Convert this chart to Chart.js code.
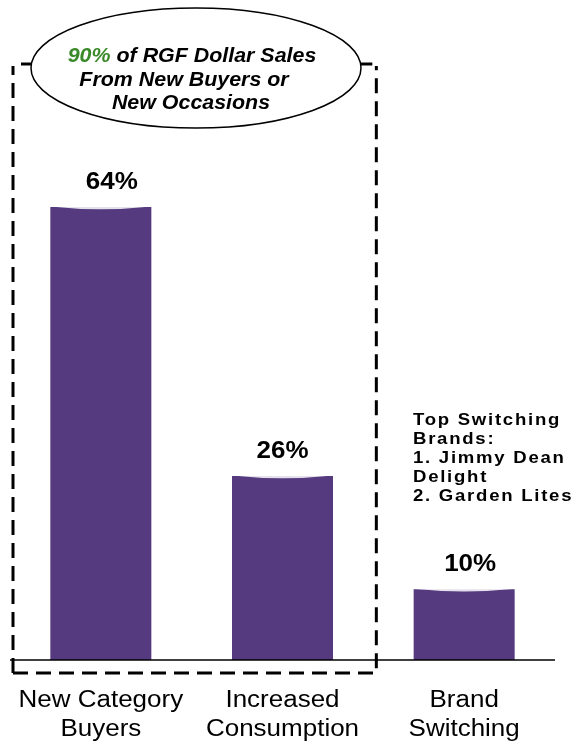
<!DOCTYPE html>
<html>
<head>
<meta charset="utf-8">
<script src="https://cdn.jsdelivr.net/npm/chart.js@4"></script>
<style>
  body { margin: 0; background: #fff; }
  #wrap { width: 575px; height: 745px; position: relative; }
</style>
</head>
<body>
<div id="wrap"><canvas id="barChart"></canvas></div>
<script>
//categories, each one split into two label lines
const categories = [
  ['New Category', 'Buyers'],
  ['Increased', 'Consumption'],
  ['Brand', 'Switching']
]

//share of dollar sales (%)
const shares = [64, 26, 10]

//callout texts
const calloutLines = ['of RGF Dollar Sales', 'From New Buyers or', 'New Occasions']
const calloutHighlight = '90%'
const noteLines = ['Top Switching', 'Brands:', '1. Jimmy Dean', 'Delight', '2. Garden Lites']

const barColor = '#553a7f'
const font = '"Liberation Sans", Arial, sans-serif'
//value labels are not quite centred over their bars in the original
const labelShift = [11, 0, 6]

//text in the original is a little wider than the font, so stretch it sideways
function wideText(ctx, text, x, y, sx) {
  ctx.save()
  ctx.translate(x, y)
  ctx.scale(sx, 1)
  ctx.fillText(text, 0, 0)
  ctx.restore()
}

/**Plugin drawing the labels, baseline, dashed box and the callout */
const decorations = {
  id: 'decorations',
  afterDatasetsDraw(chart) {
    const ctx = chart.ctx
    const x = chart.scales.x
    const y = chart.scales.y
    const base = y.getPixelForValue(0)

    ctx.save()

    //soft light curve on top of each bar
    chart.getDatasetMeta(0).data.forEach(bar => {
      const l = bar.x - bar.width / 2
      const r = bar.x + bar.width / 2
      ctx.beginPath()
      ctx.moveTo(l, bar.y - 0.5)
      ctx.lineTo(r, bar.y - 0.5)
      ctx.quadraticCurveTo(bar.x, bar.y + 5, l, bar.y - 0.5)
      ctx.fillStyle = 'rgba(255,255,255,0.85)'
      ctx.fill()
    })

    //baseline
    ctx.strokeStyle = '#000'
    ctx.lineWidth = 1.5
    ctx.beginPath()
    ctx.moveTo(chart.chartArea.left, base)
    ctx.lineTo(chart.chartArea.right, base)
    ctx.stroke()

    //value labels above bars
    ctx.fillStyle = '#000'
    ctx.textAlign = 'center'
    ctx.textBaseline = 'bottom'
    ctx.font = 'bold 23px ' + font
    shares.forEach((v, i) => {
      wideText(ctx, v + '%', x.getPixelForValue(i) + labelShift[i], y.getPixelForValue(v) - 13, 1.13)
    })

    //category labels under the axis
    ctx.textBaseline = 'middle'
    ctx.font = '23px ' + font
    categories.forEach((lines, i) => {
      lines.forEach((line, j) => {
        wideText(ctx, line, x.getPixelForValue(i), base + 41 + j * 29, 1.13)
      })
    })

    //dashed box round the first two bars
    const boxLeft = chart.chartArea.left + 3
    const boxRight = x.getPixelForValue(1.5) + 3
    const boxTop = 66
    const boxBottom = base + 13
    ctx.setLineDash([15, 8])
    ctx.lineWidth = 3
    ctx.beginPath()
    ctx.moveTo(boxLeft, boxBottom)
    ctx.lineTo(boxRight, boxBottom)
    ctx.lineTo(boxRight, boxTop)
    ctx.moveTo(boxLeft, boxBottom)
    ctx.lineTo(boxLeft, boxTop)
    ctx.stroke()
    ctx.setLineDash([])
    //short solid pieces of the top edge either side of the ellipse
    ctx.beginPath()
    ctx.moveTo(boxLeft + 8, 64)
    ctx.lineTo(40, 64)
    ctx.moveTo(350, 64)
    ctx.lineTo(boxRight - 4, 64)
    ctx.stroke()

    //callout ellipse
    const cx = 196, cy = 68
    ctx.beginPath()
    ctx.ellipse(cx, cy, 165, 60, 0, 0, Math.PI * 2)
    ctx.fillStyle = '#fff'
    ctx.fill()
    ctx.lineWidth = 1.5
    ctx.strokeStyle = '#000'
    ctx.stroke()

    ctx.font = 'italic bold 20px ' + font
    ctx.textBaseline = 'middle'
    ctx.textAlign = 'left'
    const sxC = 1.07
    const first = calloutHighlight + ' ' + calloutLines[0]
    const w0 = ctx.measureText(first).width * sxC
    const hw = ctx.measureText(calloutHighlight + ' ').width * sxC
    const startX = 192 - w0 / 2
    ctx.fillStyle = '#3a8a2a'
    wideText(ctx, calloutHighlight, startX, 56, sxC)
    ctx.fillStyle = '#000'
    wideText(ctx, calloutLines[0], startX + hw, 56, sxC)
    ctx.textAlign = 'center'
    wideText(ctx, calloutLines[1], 184, 80, sxC)
    wideText(ctx, calloutLines[2], 191, 103, sxC)

    //note about switching brands
    ctx.textAlign = 'left'
    ctx.font = 'bold 16px ' + font
    ctx.letterSpacing = '1.5px'
    noteLines.forEach((line, i) => {
      wideText(ctx, line, 413, 421 + i * 19, 1.16)
    })

    ctx.restore()
  }
}

const data = {
  labels: categories,
  datasets: [{
    data: shares,
    backgroundColor: barColor,
    borderWidth: 0,
    categoryPercentage: 1,
    barPercentage: 0.556
  }]
}

const config = {
  type: 'bar',
  data: data,
  options: {
    responsive: true,
    maintainAspectRatio: false,
    animation: false,
    layout: {
      padding: { left: 10, right: 20, top: 23, bottom: 85 }
    },
    plugins: {
      legend: { display: false },
      tooltip: { enabled: false }
    },
    scales: {
      x: { display: false },
      y: { display: false, min: 0, max: 90 }
    }
  },
  plugins: [decorations]
}

const myChart = new Chart(document.getElementById('barChart'), config)
</script>
</body>
</html>
